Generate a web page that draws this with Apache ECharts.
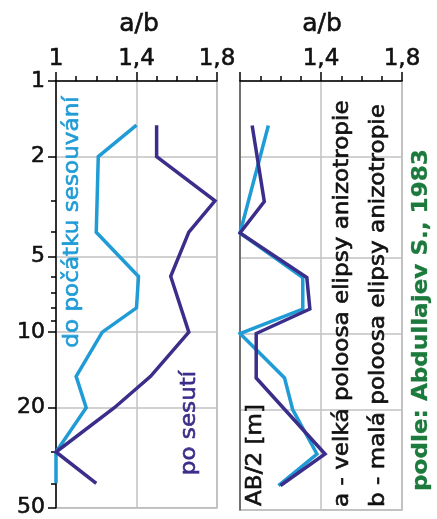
<!DOCTYPE html>
<html><head><meta charset="utf-8">
<script src="https://cdn.jsdelivr.net/npm/echarts@6/dist/echarts.min.js"></script>
<style>html,body{margin:0;padding:0;background:#fff}#c{width:437px;height:519px}</style>
</head><body><div id="c"></div>
<script>
// ---- data ----
const xMajorTicks = [1, 1.4, 1.8];
const yLabelTicks = [1, 2, 5, 10, 20, 50];
const yMinorTicks = [3, 4, 6, 7, 8, 9, 30, 40];

// left panel
const abLeftCyan    = [1.5, 2, 4, 6, 8, 10, 15, 20, 30, 40];
const ratioLeftCyan = [1.40, 1.21, 1.20, 1.41, 1.40, 1.23, 1.10, 1.15, 1.00, 1.00];
const abLeftPurple    = [1.5, 2, 3, 4, 6, 10, 15, 20, 30, 40];
const ratioLeftPurple = [1.50, 1.50, 1.79, 1.66, 1.57, 1.66, 1.47, 1.29, 1.00, 1.20];
// right panel
const abRightCyan    = [1.5, 4, 6, 8, 10, 15, 20, 30, 40];
const ratioRightCyan = [1.14, 1.00, 1.31, 1.31, 1.00, 1.22, 1.26, 1.38, 1.19];
const abRightPurple    = [1.5, 3, 4, 6, 8, 10, 15, 30, 40];
const ratioRightPurple = [1.06, 1.12, 1.00, 1.33, 1.345, 1.08, 1.08, 1.42, 1.20];

const FONT = 'DejaVu Sans';
const CYAN = '#1f9bd6';
const PURPLE = '#3b2e8a';
const GREEN = '#1b7a3c';
const GRID = '#c2c2c2';
const INK = '#111';

const pairs = (xs, ys) => xs.map((x, i) => [x, ys[i]]);
const fmt = v => String(v).replace('.', ',');

const grids = [
  {left: 56, top: 81, width: 161, height: 429, show: true, borderColor: '#b0b0b0', borderWidth: 1.5},
  {left: 240, top: 81, width: 162, height: 429, show: true, borderColor: '#b0b0b0', borderWidth: 1.5}
];

const labelStyle = {fontFamily: FONT, color: INK, textBorderColor: INK, textBorderWidth: 0.6};

const xAxes = [], yAxes = [];
[0, 1].forEach(g => {
  // minor ticks every 0.1 with axis line
  xAxes.push({
    gridIndex: g, type: 'value', position: 'top', min: 1, max: 1.8, interval: 0.1,
    axisLine: {show: true, lineStyle: {color: '#000', width: 1.5}},
    axisTick: {show: true, length: 5, lineStyle: {color: '#000', width: 1.5}},
    axisLabel: {show: false}, splitLine: {show: false}
  });
  // major ticks, labels and vertical grid lines
  xAxes.push({
    gridIndex: g, type: 'value', position: 'top', min: 1, max: 1.8,
    axisLine: {show: false},
    axisTick: {show: true, length: 9, customValues: xMajorTicks, lineStyle: {color: '#000', width: 1.5}},
    axisLabel: Object.assign({show: true, customValues: xMajorTicks, fontSize: 23, margin: 10,
      formatter: v => (g === 1 && v === 1) ? '' : fmt(v)}, labelStyle),
    splitLine: {show: true, lineStyle: {color: GRID, width: 1.5}}
  });
  // labelled ticks + horizontal grid lines
  yAxes.push({
    gridIndex: g, type: 'log', logBase: 10, min: 1, max: 50, inverse: true, position: 'left',
    axisLine: {show: true, lineStyle: {color: g === 0 ? '#000' : '#555', width: 1.5}},
    axisTick: {show: g === 0, length: 8, customValues: yLabelTicks, lineStyle: {color: '#000', width: 1.5}},
    axisLabel: Object.assign({show: g === 0, customValues: yLabelTicks, fontSize: 22, margin: 11}, labelStyle),
    splitLine: {show: true, lineStyle: {color: GRID, width: 1.5}}
  });
  // minor ticks
  yAxes.push({
    gridIndex: g, type: 'log', logBase: 10, min: 1, max: 50, inverse: true, position: 'left',
    axisLine: {show: false},
    axisTick: {show: g === 0, length: 5, customValues: yMinorTicks, lineStyle: {color: '#000', width: 1.5}},
    axisLabel: {show: false}, splitLine: {show: false}
  });
});

const lineSeries = (data, color, xi, yi) => ({
  type: 'line', data, xAxisIndex: xi, yAxisIndex: yi, symbol: 'none', clip: false,
  lineStyle: {color, width: 3.5, join: 'miter'}, silent: true, animation: false
});

const vtext = (text, x, y, color, align, bold) => ({
  type: 'text', x, y, rotation: Math.PI / 2, scaleX: 1.1, scaleY: 1, z: 50,
  style: {text, fill: color, stroke: color, lineWidth: bold ? 0.3 : 0.6, fontSize: 21, fontFamily: FONT,
    fontWeight: bold ? 'bold' : 'normal', textAlign: align, textVerticalAlign: 'middle'}
});
const htext = (text, x, y) => ({
  type: 'text', x, y, z: 50,
  style: {text, fill: INK, stroke: INK, lineWidth: 0.6, fontSize: 25, fontFamily: FONT,
    textAlign: 'center', textVerticalAlign: 'middle'}
});

const chart = echarts.init(document.getElementById('c'), null, {renderer: 'canvas'});
chart.setOption({
  animation: false,
  backgroundColor: '#fff',
  grid: grids,
  xAxis: xAxes,
  yAxis: yAxes,
  series: [
    lineSeries(pairs(ratioLeftCyan, abLeftCyan), CYAN, 0, 0),
    lineSeries(pairs(ratioLeftPurple, abLeftPurple), PURPLE, 0, 0),
    lineSeries(pairs(ratioRightCyan, abRightCyan), CYAN, 2, 2),
    lineSeries(pairs(ratioRightPurple, abRightPurple), PURPLE, 2, 2)
  ],
  graphic: [
    htext('a/b', 139, 24),
    htext('a/b', 322, 24),
    vtext('do počátku sesouvání', 73, 222, CYAN, 'center'),
    vtext('po sesutí', 190, 423, PURPLE, 'center'),
    vtext('AB/2 [m]', 256, 455, INK, 'center'),
    vtext('a - velká poloosa elipsy anizotropie', 343, 507, INK, 'left'),
    vtext('b - malá poloosa elipsy anizotropie', 379, 507, INK, 'left'),
    vtext('podle: Abdullajev S., 1983', 422, 320, GREEN, 'center', true)
  ]
});
</script></body></html>
